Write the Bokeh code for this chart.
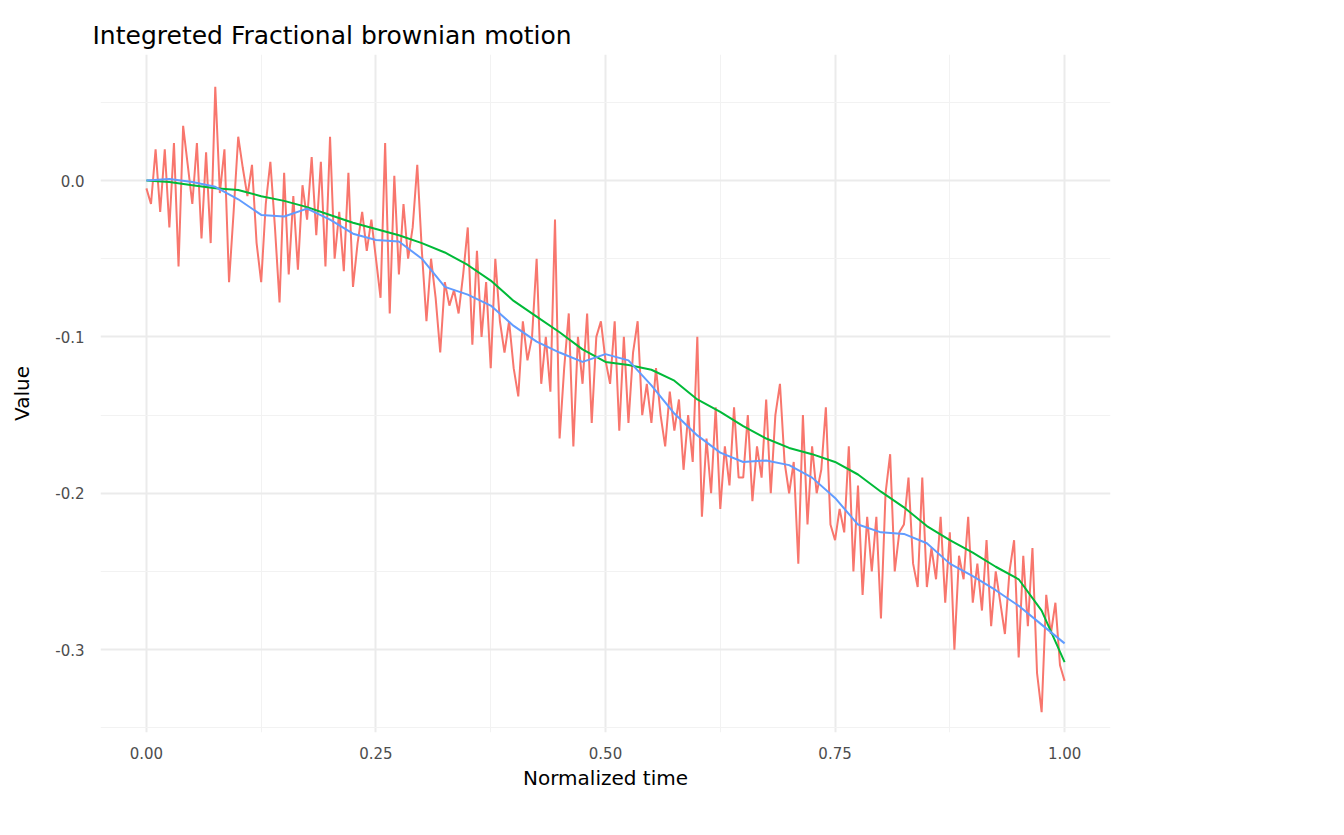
from bokeh.plotting import figure
from bokeh.models import Legend, LegendItem, FixedTicker, Range1d
from bokeh.embed import file_html
from bokeh.resources import INLINE

# noisy observations, step 0.005
noisy = [
    -0.005, -0.015, 0.02, -0.02, 0.02, -0.03, 0.024, -0.055, 0.035, 0.01,
    -0.015, 0.024, -0.037, 0.018, -0.04, 0.06, -0.008, 0.02, -0.065, -0.02,
    0.028, 0.008, -0.01, 0.01, -0.04, -0.065, -0.015, 0.012, -0.03, -0.078,
    0.005, -0.06, -0.01, -0.057, -0.003, -0.025, 0.015, -0.035, 0.012, -0.055,
    0.028, -0.05, -0.02, -0.058, 0.005, -0.068, -0.04, -0.02, -0.045, -0.025,
    -0.05, -0.075, 0.024, -0.085, 0.003, -0.06, -0.015, -0.05, -0.03, 0.01,
    -0.045, -0.09, -0.05, -0.075, -0.11, -0.065, -0.08, -0.07, -0.085, -0.06,
    -0.03, -0.105, -0.045, -0.1, -0.065, -0.12, -0.05, -0.09, -0.11, -0.09,
    -0.12, -0.138, -0.09, -0.115, -0.1, -0.05, -0.13, -0.1, -0.135, -0.025,
    -0.165, -0.12, -0.085, -0.17, -0.1, -0.13, -0.085, -0.155, -0.1, -0.09,
    -0.115, -0.13, -0.09, -0.16, -0.1, -0.155, -0.11, -0.09, -0.15, -0.13,
    -0.155, -0.12, -0.15, -0.17, -0.135, -0.16, -0.14, -0.185, -0.15, -0.18,
    -0.1, -0.215, -0.165, -0.2, -0.145, -0.21, -0.17, -0.195, -0.145, -0.19,
    -0.19, -0.15, -0.205, -0.17, -0.19, -0.14, -0.2, -0.15, -0.13, -0.18,
    -0.2, -0.18, -0.245, -0.15, -0.22, -0.17, -0.2, -0.185, -0.145, -0.22,
    -0.23, -0.21, -0.225, -0.17, -0.25, -0.195, -0.265, -0.215, -0.25, -0.215,
    -0.28, -0.2, -0.175, -0.25, -0.225, -0.22, -0.19, -0.245, -0.26, -0.19,
    -0.26, -0.235, -0.255, -0.215, -0.27, -0.225, -0.3, -0.24, -0.255, -0.215,
    -0.27, -0.245, -0.275, -0.23, -0.285, -0.25, -0.27, -0.29, -0.25, -0.23,
    -0.305, -0.24, -0.285, -0.235, -0.315, -0.34, -0.265, -0.29, -0.27, -0.31, -0.32,
]
t_noisy = [i / 200 for i in range(len(noisy))]

# truth and smooth, step 0.025
truth = [0.0, -0.001, -0.003, -0.005, -0.006, -0.01, -0.013, -0.017, -0.022, -0.027,
         -0.031, -0.035, -0.04, -0.046, -0.054, -0.064, -0.077, -0.087, -0.097, -0.108,
         -0.116, -0.118, -0.121, -0.128, -0.14, -0.148, -0.157, -0.165, -0.171, -0.175,
         -0.18, -0.188, -0.199, -0.209, -0.221, -0.23, -0.238, -0.247, -0.255, -0.264,
         -0.275, -0.308]
truth = truth[:39] + [-0.275, -0.308]
smooth = [0.0, 0.001, -0.001, -0.004, -0.012, -0.022, -0.023, -0.018, -0.025, -0.034,
          -0.038, -0.039, -0.05, -0.068, -0.073, -0.08, -0.093, -0.103, -0.11, -0.116,
          -0.111, -0.115, -0.131, -0.149, -0.163, -0.174, -0.18, -0.179, -0.182, -0.19,
          -0.203, -0.22, -0.225, -0.226, -0.232, -0.245, -0.253, -0.262, -0.272, -0.284,
          -0.296]
t_curve = [i / 40 for i in range(41)]

x_ticks = [0.0, 0.25, 0.5, 0.75, 1.0]
x_labels = ["0.00", "0.25", "0.50", "0.75", "1.00"]
y_ticks = [-0.3, -0.2, -0.1, 0.0]
y_labels = ["-0.3", "-0.2", "-0.1", "0.0"]

p = figure(frame_width=1010, frame_height=678, output_backend="svg", toolbar_location=None,
           x_range=Range1d(-0.05, 1.05), y_range=Range1d(-0.353, 0.0806),
           min_border_left=100, min_border_top=54, min_border_bottom=87, min_border_right=0)
p.outline_line_color = None
p.background_fill_color = "white"

p.title.text = "Integreted Fractional brownian motion"
p.title.text_font = "DejaVu Sans"
p.title.text_font_size = "25px"
p.title.text_font_style = "normal"
p.title.text_color = "black"
p.title.offset = -8

r1 = p.line(t_noisy, noisy, color="#F8766D", line_width=2)
r2 = p.line(t_curve, truth, color="#00BA38", line_width=2)
r3 = p.line(t_curve, smooth, color="#619CFF", line_width=2)

p.xaxis.ticker = FixedTicker(ticks=x_ticks, minor_ticks=[-0.125, 0.125, 0.375, 0.625, 0.875, 1.125])
p.yaxis.ticker = FixedTicker(ticks=y_ticks, minor_ticks=[-0.35, -0.25, -0.15, -0.05, 0.05])
p.xaxis.major_label_overrides = dict(zip(x_ticks, x_labels))
p.yaxis.major_label_overrides = dict(zip(y_ticks, y_labels))
for ax in (p.xaxis, p.yaxis):
    ax.axis_line_color = None
    ax.major_tick_line_color = None
    ax.minor_tick_line_color = None
    ax.major_label_text_font = "DejaVu Sans"
    ax.major_label_text_font_size = "15px"
    ax.major_label_text_color = "#4d4d4d"
    ax.axis_label_text_font = "DejaVu Sans"
    ax.axis_label_text_font_size = "20px"
    ax.axis_label_text_font_style = "normal"
    ax.axis_label_text_color = "black"
p.xaxis.axis_label = "Normalized time"
p.yaxis.axis_label = "Value"
p.xaxis.major_label_standoff = 8
p.yaxis.major_label_standoff = 10
p.xaxis.axis_label_standoff = 4
p.yaxis.axis_label_standoff = 18

p.grid.grid_line_color = "#ebebeb"
p.grid.grid_line_width = 2
p.grid.minor_grid_line_color = "#f2f2f2"
p.grid.minor_grid_line_width = 1

legend = Legend(items=[LegendItem(label="Noisy", renderers=[r1]),
                       LegendItem(label="Truth", renderers=[r2]),
                       LegendItem(label="Smooth", renderers=[r3])],
                location="center", border_line_color=None,
                label_text_font="DejaVu Sans", label_text_font_size="17px",
                glyph_width=36, spacing=20, margin=40, padding=4)
p.add_layout(legend, "right")

open("out.html", "w").write(file_html(p, INLINE))
